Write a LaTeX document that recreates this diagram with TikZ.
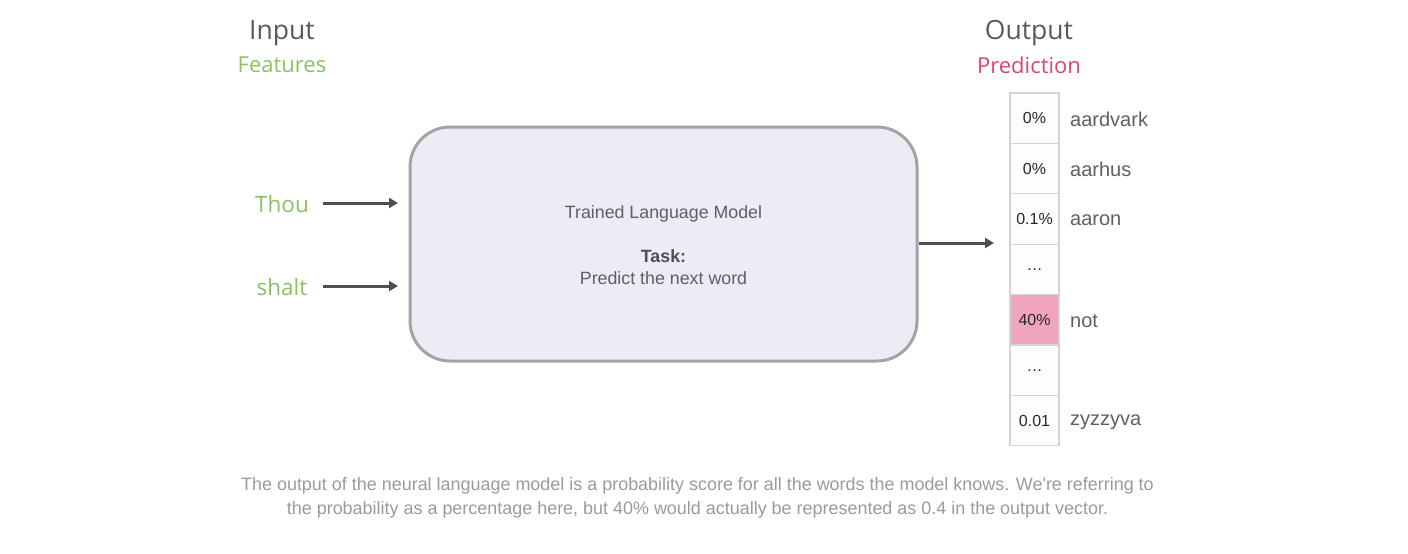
\documentclass[tikz,border=0pt]{standalone}
\usepackage{fontspec}
\setmainfont{Liberation Sans}
\newfontfamily\osans{Open Sans}
\usetikzlibrary{arrows.meta}
\definecolor{titlegray}{HTML}{555A61}
\definecolor{featgreen}{HTML}{8CC063}
\definecolor{predred}{HTML}{D94670}
\definecolor{arrowgray}{HTML}{4B4F56}
\definecolor{boxfill}{HTML}{EEEBF5}
\definecolor{boxline}{HTML}{A3A3A3}
\definecolor{cellline}{HTML}{D4D4D4}
\definecolor{cellfill}{HTML}{FFFCFD}
\definecolor{hotfill}{HTML}{F1A4BD}
\definecolor{textgray}{HTML}{5C5F66}
\definecolor{capgray}{HTML}{9A9A9A}
\tikzset{
  title/.style={font=\osans\fontsize{26.5}{32}\selectfont, text=titlegray, inner sep=0pt},
  subtitle/.style={font=\osans\fontsize{22}{26}\selectfont, inner sep=0pt},
  word/.style={font=\osans\fontsize{22.5}{27}\selectfont, text=featgreen, inner sep=0pt},
  feed/.style={draw=arrowgray, line width=3pt, -{Triangle[length=9pt,width=10pt]}},
  model/.style={draw=boxline, line width=3pt, fill=boxfill, rounded corners=40pt},
  cell/.style={draw=cellline, line width=1.2pt, fill=cellfill, minimum width=49pt, minimum height=50.4pt, inner sep=0pt, outer sep=0pt, font=\fontsize{16}{19}\selectfont, text=black!85},
  vocab/.style={anchor=west, inner sep=0pt, font=\fontsize{20}{24}\selectfont, text=textgray},
  boxtext/.style={inner sep=0pt, font=\fontsize{17.8}{21}\selectfont, text=textgray},
  caption/.style={inner sep=0pt, align=center, font=\fontsize{17.95}{24}\selectfont, text=capgray}
}
\begin{document}
\begin{tikzpicture}[x=1pt,y=-1pt]
\useasboundingbox (0,0) rectangle (1408,554);
% titles
\node[title] (in) at (282,33) {Input};
\node[subtitle, text=featgreen] (feat) at (282,65) {Features};
\node[title] (out) at (1029,33) {Output};
\node[subtitle, text=predred] (pred) at (1029,65) {Prediction};
% inputs
\node[word] (thou) at (282,204) {Thou};
\node[word] (shalt) at (282,287) {shalt};
% model box
\draw[model] (410,127) rectangle (917,361);
\coordinate (mleft1) at (398,203);
\coordinate (mleft2) at (398,286);
\coordinate (mright) at (919,243);
\node[boxtext] (tlm) at (663.5,214) {Trained Language Model};
\node[boxtext, font=\bfseries\fontsize{17.8}{21}\selectfont, text=arrowgray] (task) at (663.5,256) {Task:};
\node[boxtext] (pnw) at (663.5,278) {Predict the next word};
\draw[feed] (323,203) -- (mleft1);
\draw[feed] (323,286) -- (mleft2);
% output cells
\node[cell] (c1) at (1034.5,118.2) {0\%};
\node[cell, anchor=north] (c2) at (c1.south) {0\%};
\node[cell, anchor=north] (c3) at (c2.south) {0.1\%};
\node[cell, anchor=north] (c4) at (c3.south) {\raisebox{-2pt}{\dots}};
\node[cell, anchor=north, fill=hotfill] (c5) at (c4.south) {40\%};
\node[cell, anchor=north] (c6) at (c5.south) {\raisebox{-2pt}{\dots}};
\node[cell, anchor=north] (c7) at (c6.south) {0.01};
\draw[feed] (mright) -- (994,243) coordinate (cin);
\node[vocab] (w1) at (1070,119) {aardvark};
\node[vocab] (w2) at (1070,169.5) {aarhus};
\node[vocab] (w3) at (1070,220) {aaron};
\node[vocab] (w5) at (1070,321) {not};
\node[vocab] (w7) at (1070,422) {zyzzyva};
% caption
\node[caption] (cap) at (697.5,498) {The output of the neural language model is a probability score for all the words the model knows. We\textquotesingle re referring to\\the probability as a percentage here, but 40\% would actually be represented as 0.4 in the output vector.};
\end{tikzpicture}
\end{document}
